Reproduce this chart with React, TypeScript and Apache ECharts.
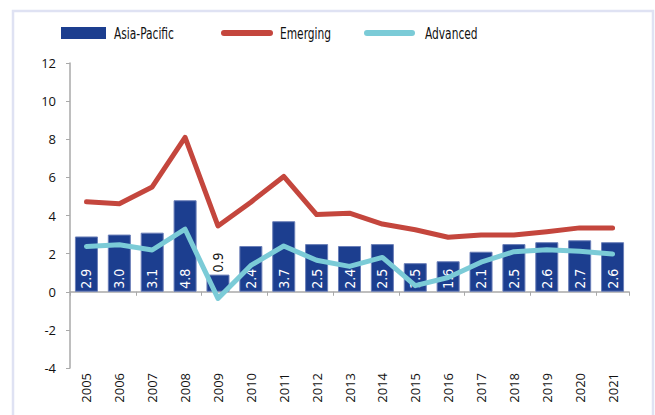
import React, { useEffect, useRef } from "react";
import * as echarts from "echarts";

const years = ["2005","2006","2007","2008","2009","2010","2011","2012","2013","2014","2015","2016","2017","2018","2019","2020","2021"];
const asiaPacific = [2.9, 3.0, 3.1, 4.8, 0.9, 2.4, 3.7, 2.5, 2.4, 2.5, 1.5, 1.6, 2.1, 2.5, 2.6, 2.7, 2.6];
const emerging = [4.72, 4.62, 5.5, 8.1, 3.45, 4.7, 6.05, 4.05, 4.12, 3.55, 3.25, 2.86, 2.98, 2.98, 3.15, 3.35, 3.35];
const advanced = [2.38, 2.47, 2.19, 3.28, -0.35, 1.38, 2.4, 1.65, 1.33, 1.8, 0.32, 0.75, 1.55, 2.1, 2.2, 2.12, 1.98];
const yTicks = [-4, -2, 0, 2, 4, 6, 8, 10, 12];

const BLUE = "#1c3e8f";
const RED = "#c4463d";
const CYAN = "#7bcbd7";
const NARROW = "'Liberation Sans Narrow', 'DejaVu Sans Condensed', 'Roboto', sans-serif";
const TICKFONT = "'Open Sans', 'Noto Sans', sans-serif";

export default function App() {
  const ref = useRef<HTMLDivElement>(null);
  useEffect(() => {
    if (!ref.current) return;
    const chart = echarts.init(ref.current, undefined, { renderer: "svg" });
    const barData = asiaPacific.map((v) =>
      v < 1
        ? {
            value: v,
            label: {
              position: "top",
              color: "#111",
              distance: 2,
            },
          }
        : v
    );
    const legendText = (x: number, text: string) => ({
      type: "text",
      x,
      y: 33,
      scaleX: 0.74,
      style: { text, fill: "#111", fontSize: 16, fontFamily: NARROW, verticalAlign: "middle" },
    });
    chart.setOption({
      animation: false,
      backgroundColor: "#ffffff",
      grid: { left: 70, top: 63, width: 559, height: 305, containLabel: false },
      xAxis: [
        {
          type: "category",
          data: years,
          axisLine: { onZero: true, lineStyle: { color: "#a9a9a9", width: 1.5 } },
          axisTick: { show: true, length: 4, inside: false, lineStyle: { color: "#a9a9a9" } },
          axisLabel: { show: false },
          splitLine: { show: false },
        },
        {
          type: "category",
          data: years,
          position: "bottom",
          axisLine: { show: false, onZero: false },
          axisTick: { show: false },
          axisLabel: {
            rotate: 90,
            margin: 5,
            fontSize: 13,
            color: "#111",
            fontFamily: TICKFONT,
          },
        },
      ],
      yAxis: {
        type: "value",
        min: -4,
        max: 12,
        interval: 2,
        axisLine: { show: true, lineStyle: { color: "#a9a9a9", width: 1.5 } },
        axisTick: { show: true, length: 4, lineStyle: { color: "#a9a9a9" } },
        axisLabel: {
          margin: 14,
          fontSize: 13,
          color: "#111",
          fontFamily: TICKFONT,
          formatter: (v: number) => (yTicks.includes(v) ? String(v) : ""),
        },
        splitLine: { show: false },
      },
      series: [
        {
          name: "Asia-Pacific",
          type: "bar",
          xAxisIndex: 0,
          data: barData,
          barWidth: "70%",
          itemStyle: { color: BLUE, borderColor: "#6b7fb8", borderWidth: 1 },
          label: {
            show: true,
            position: "insideBottom",
            rotate: 90,
            align: "left",
            verticalAlign: "middle",
            distance: 3,
            color: "#ffffff",
            fontSize: 14,
            fontFamily: NARROW,
            formatter: (p: any) => Number(p.value).toFixed(1),
          },
          z: 2,
        },
        {
          name: "Emerging",
          type: "line",
          xAxisIndex: 0,
          data: emerging,
          symbol: "none",
          lineStyle: { color: RED, width: 5, cap: "round", join: "round" },
          z: 3,
        },
        {
          name: "Advanced",
          type: "line",
          xAxisIndex: 0,
          data: advanced,
          symbol: "none",
          lineStyle: { color: CYAN, width: 5, cap: "round", join: "round" },
          z: 4,
        },
      ],
      graphic: [
        {
          type: "rect",
          shape: { x: 13, y: 11, width: 640, height: 420 },
          style: { fill: "none", stroke: "#dfe2f3", lineWidth: 2.5 },
          silent: true,
        },
        {
          type: "rect",
          shape: { x: 61, y: 27, width: 45, height: 12 },
          style: { fill: BLUE },
        },
        legendText(114, "Asia-Pacific"),
        {
          type: "line",
          shape: { x1: 224, y1: 33, x2: 270, y2: 33 },
          style: { stroke: RED, lineWidth: 6, lineCap: "round" },
        },
        legendText(280, "Emerging"),
        {
          type: "line",
          shape: { x1: 367, y1: 33, x2: 412, y2: 33 },
          style: { stroke: CYAN, lineWidth: 6, lineCap: "round" },
        },
        legendText(425, "Advanced"),
      ],
    });
    return () => chart.dispose();
  }, []);
  return (
    <div
      ref={ref}
      style={{ position: "fixed", left: 0, top: 0, width: 655, height: 415, background: "#fff" }}
    />
  );
}
